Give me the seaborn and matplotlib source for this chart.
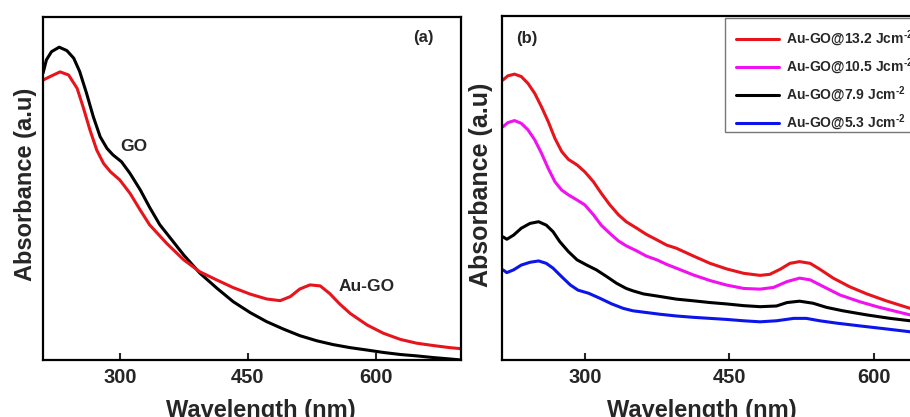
import numpy as np
import pandas as pd
import matplotlib
matplotlib.use("Agg")
import matplotlib.pyplot as plt
from matplotlib.patches import Rectangle
import seaborn as sns

# ---------------- data (panel a) ----------------
go_wl = [210, 214, 220, 229, 238, 246, 253, 261, 269, 277, 285, 292, 302, 312, 324, 335, 347,
         355, 375, 394, 414, 433, 453, 472, 492, 511, 531, 550, 570, 590, 609, 629, 648, 668,
         687, 700]
go_abs = [0.836, 0.875, 0.899, 0.912, 0.902, 0.880, 0.841, 0.778, 0.709, 0.651, 0.617, 0.598,
          0.578, 0.544, 0.496, 0.445, 0.394, 0.369, 0.306, 0.253, 0.209, 0.170, 0.138, 0.112,
          0.090, 0.071, 0.056, 0.045, 0.036, 0.029, 0.022, 0.016, 0.012, 0.007, 0.003, 0.0]

augo_wl = [210, 218, 230, 240, 250, 257, 265, 273, 281, 289, 300, 312, 324, 335, 355, 375, 394,
           414, 433, 453, 472, 488, 500, 511, 523, 535, 546, 558, 570, 590, 609, 629, 648, 668,
           687, 700]
augo_abs = [0.816, 0.826, 0.840, 0.831, 0.792, 0.738, 0.671, 0.612, 0.573, 0.549, 0.525, 0.486,
            0.437, 0.394, 0.340, 0.292, 0.257, 0.233, 0.211, 0.192, 0.178, 0.173, 0.185, 0.207,
            0.219, 0.216, 0.194, 0.163, 0.136, 0.102, 0.078, 0.060, 0.049, 0.042, 0.036, 0.033]

# ---------------- data (panel b) ----------------
fluence_labels = ["Au-GO@13.2 Jcm", "Au-GO@10.5 Jcm", "Au-GO@7.9 Jcm", "Au-GO@5.3 Jcm"]

wl_13_2 = [215, 220, 227, 234, 241, 248, 255, 262, 269, 276, 283, 292, 300, 309, 317, 326, 335,
           343, 354, 364, 375, 385, 395, 413, 430, 447, 465, 482, 492, 503, 513, 523, 534, 544,
           558, 575, 593, 613, 638, 660, 680, 700]
abs_13_2 = [0.814, 0.826, 0.831, 0.824, 0.804, 0.775, 0.736, 0.693, 0.644, 0.606, 0.583, 0.567,
            0.547, 0.518, 0.485, 0.451, 0.422, 0.402, 0.383, 0.365, 0.349, 0.334, 0.325, 0.302,
            0.281, 0.265, 0.252, 0.246, 0.249, 0.264, 0.281, 0.286, 0.281, 0.264, 0.238, 0.213,
            0.192, 0.172, 0.150, 0.137, 0.126, 0.116]

wl_10_5 = [215, 220, 227, 234, 241, 248, 255, 262, 269, 276, 283, 292, 300, 309, 317, 326, 335,
           343, 354, 364, 375, 385, 395, 413, 430, 447, 465, 482, 496, 510, 523, 534, 548, 565,
           586, 606, 638, 660, 680, 700]
abs_10_5 = [0.678, 0.690, 0.696, 0.688, 0.669, 0.640, 0.601, 0.557, 0.518, 0.494, 0.480, 0.465,
            0.451, 0.422, 0.392, 0.368, 0.346, 0.332, 0.317, 0.302, 0.291, 0.278, 0.267, 0.247,
            0.231, 0.218, 0.208, 0.206, 0.211, 0.228, 0.238, 0.233, 0.213, 0.189, 0.169, 0.153,
            0.131, 0.118, 0.108, 0.099]

wl_7_9 = [215, 219, 226, 234, 243, 252, 260, 267, 274, 283, 292, 302, 312, 323, 333, 343, 350,
          361, 375, 395, 413, 430, 447, 465, 482, 499, 510, 523, 537, 551, 568, 593, 617, 638,
          660, 680, 700]
abs_7_9 = [0.358, 0.351, 0.363, 0.383, 0.397, 0.402, 0.392, 0.373, 0.344, 0.315, 0.291, 0.276,
           0.262, 0.242, 0.223, 0.208, 0.201, 0.192, 0.186, 0.177, 0.172, 0.167, 0.163, 0.158,
           0.155, 0.157, 0.167, 0.171, 0.165, 0.153, 0.143, 0.131, 0.121, 0.114, 0.106, 0.099,
           0.093]

wl_5_3 = [215, 219, 226, 234, 243, 252, 260, 267, 276, 285, 293, 304, 316, 328, 340, 350, 378,
          395, 413, 430, 447, 465, 482, 499, 517, 530, 544, 562, 586, 614, 638, 660, 680, 700]
abs_5_3 = [0.262, 0.254, 0.262, 0.276, 0.284, 0.288, 0.281, 0.267, 0.242, 0.218, 0.203, 0.194,
           0.179, 0.163, 0.150, 0.143, 0.133, 0.128, 0.124, 0.121, 0.118, 0.114, 0.111, 0.114,
           0.121, 0.121, 0.114, 0.107, 0.099, 0.090, 0.082, 0.076, 0.070, 0.064]

xticks = [300, 450, 600]

# ---------------- style ----------------
sns.set_theme(style="white")
plt.rcParams["font.family"] = ["Liberation Sans", "DejaVu Sans"]
plt.rcParams["font.weight"] = "bold"
plt.rcParams["mathtext.fontset"] = "custom"
plt.rcParams["mathtext.bf"] = "Liberation Sans:bold"
plt.rcParams["mathtext.rm"] = "Liberation Sans:bold"
plt.rcParams["mathtext.default"] = "bf"

fig = plt.figure(figsize=(9.10, 4.17), dpi=100)
fig.patch.set_facecolor("white")
ax1 = fig.add_axes([43 / 910, (417 - 360) / 417, (461 - 43) / 910, (360 - 17) / 417])
ax2 = fig.add_axes([502 / 910, (417 - 360) / 417, (970 - 502) / 910, (360 - 16) / 417])

lw = 2.2
red = "#e8141c"
line_kw = dict(lw=lw, solid_joinstyle="round", solid_capstyle="round")
sns.lineplot(data=pd.DataFrame({"wl": go_wl, "abs": go_abs}), x="wl", y="abs", ax=ax1,
             color="black", **line_kw)
sns.lineplot(data=pd.DataFrame({"wl": augo_wl, "abs": augo_abs}), x="wl", y="abs", ax=ax1,
             color=red, **line_kw)

colors_b = [red, "#f010f0", "black", "#0c14ec"]
series_b = [(wl_13_2, abs_13_2), (wl_10_5, abs_10_5), (wl_7_9, abs_7_9), (wl_5_3, abs_5_3)]
for lab, (wl, vals), c in zip(fluence_labels, series_b, colors_b):
    d = pd.DataFrame({"wl": wl, "abs": vals})
    sns.lineplot(data=d, x="wl", y="abs", ax=ax2, color=c, label=lab + r"$^{\text{-2}}$",
                 **line_kw)

for ax, xl in ((ax1, (210, 700)), (ax2, (214, 700))):
    ax.set_xlim(*xl)
    ax.set_ylim(0, 1)
    ax.set_xticks(xticks)
    ax.set_xticklabels([str(t) for t in xticks], fontsize=14.5, fontweight="bold")
    ax.set_yticks([])
    ax.tick_params(axis="x", direction="in", length=5, width=1.5, bottom=True, pad=6)
    for s in ax.spines.values():
        s.set_linewidth(1.6)
        s.set_color("black")
    ax.set_facecolor("white")

ax1.set_xlabel("Wavelength (nm)", fontsize=17, fontweight="bold")
ax2.set_xlabel("Wavelength (nm)", fontsize=17, fontweight="bold")
ax1.xaxis.set_label_coords(0.5215, -0.114)
ax2.xaxis.set_label_coords(0.427, -0.114)
ax1.set_ylabel("Absorbance (a.u)", fontsize=17, fontweight="bold")
ax2.set_ylabel("Absorbance (a.u)", fontsize=18, fontweight="bold")
ax1.yaxis.set_label_coords(-0.0134, 0.513)
ax2.yaxis.set_label_coords(-0.019, 0.509)

ax1.text(316, 0.623, "GO", fontsize=12.5, fontweight="bold", ha="center", va="center")
ax1.text(589, 0.215, "Au-GO", fontsize=12.5, fontweight="bold", ha="center", va="center")
ax1.text(0.909, 0.941, "(a)", transform=ax1.transAxes, fontsize=12, fontweight="bold",
         ha="center", va="center")
ax2.text(0.052, 0.934, "(b)", transform=ax2.transAxes, fontsize=12, fontweight="bold",
         ha="center", va="center")

leg = ax2.legend(loc="upper left", bbox_to_anchor=(0.477, 0.994), borderaxespad=0,
                 prop={"size": 10, "weight": "bold"}, handlelength=3.1, handletextpad=0.55,
                 labelspacing=0.57, borderpad=0.75, fancybox=False, frameon=False)
# legend box (drawn separately to match the reference's asymmetric padding)
box = Rectangle(((725 - 502) / 468, (360 - 132) / 344), 0.6, (132 - 18) / 344,
                transform=ax2.transAxes, facecolor="white", edgecolor="#777777", lw=1.0,
                clip_on=False, zorder=4)
ax2.add_patch(box)
leg.set_zorder(5)

fig.savefig("out.png", dpi=100)
